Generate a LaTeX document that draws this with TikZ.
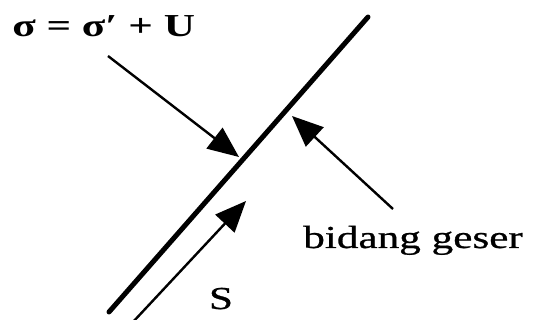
\documentclass[tikz,border=0pt]{standalone}
\usepackage{fontspec}
\setmainfont{Liberation Serif}
\newfontfamily\heavy{Liberation Serif}[FakeBold=0.7]
\usetikzlibrary{arrows.meta}
\begin{document}
\begin{tikzpicture}[x=1pt,y=-1pt,
  lbl/.style={inner sep=0pt,font=\heavy\fontsize{32}{36}\selectfont,xscale=1.35},
  plane/.style={line width=5pt,line cap=round},
  force/.style={line width=2.4pt,-{Triangle[length=31pt,width=26pt]}}]
\useasboundingbox (0,0) rectangle (536,320);
\coordinate (p0) at (109,312);
\coordinate (p1) at (368,17);
\draw[plane] (p0) -- (p1);
\node[lbl,anchor=base west,font=\fontsize{32}{36}\selectfont\bfseries] (sig) at (12,37) {σ = σ′ + U};
\coordinate (s0) at (108,56);
\coordinate (s1) at (239,157);
\draw[force] (s0) -- (s1);
\node[lbl,anchor=base west] (bg) at (303,248) {bidang geser};
\coordinate (b0) at (393,209);
\coordinate (b1) at (292,116);
\draw[force] (b0) -- (b1);
\coordinate (t0) at (133,322);
\coordinate (t1) at (246,201);
\draw[force] (t0) -- (t1);
\node[lbl,anchor=base] (S) at (221,309) {S};
\end{tikzpicture}
\end{document}
